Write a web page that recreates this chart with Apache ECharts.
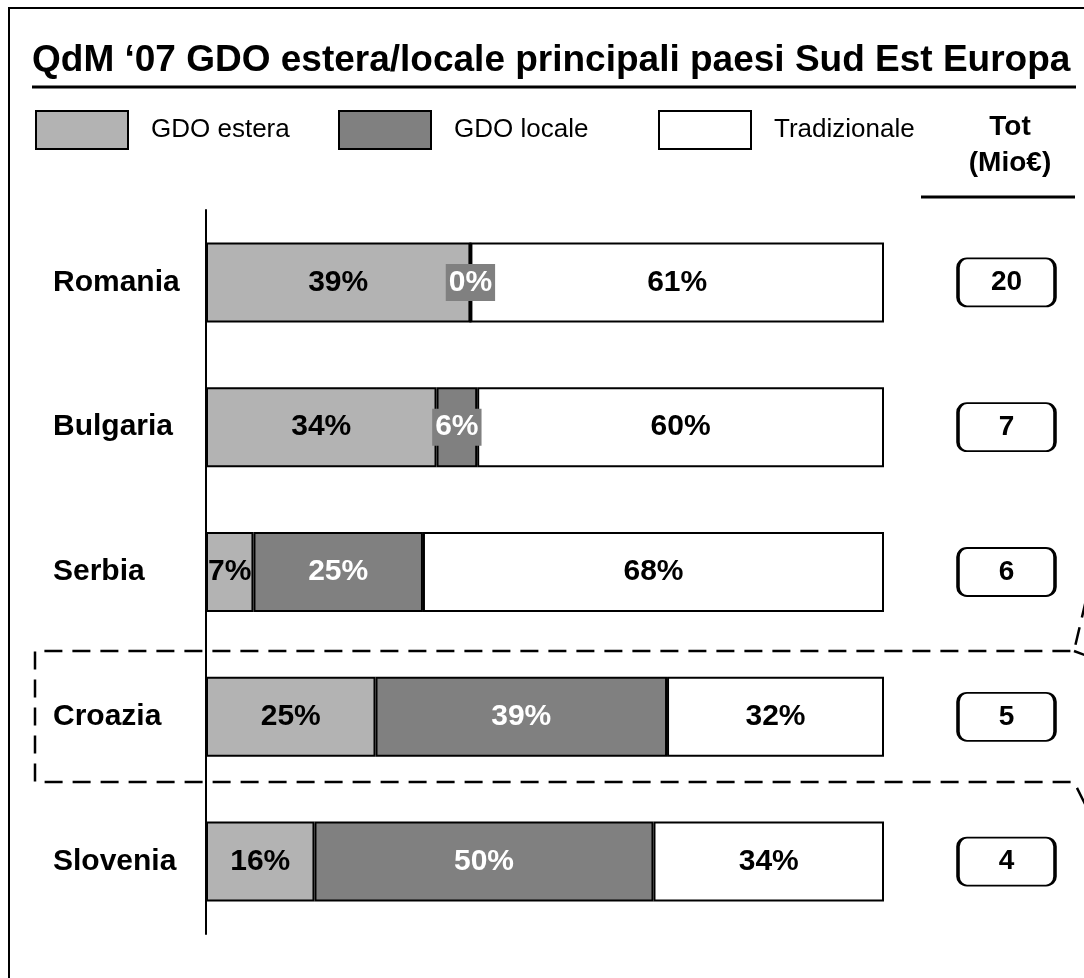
<!DOCTYPE html>
<html>
<head>
<meta charset="utf-8">
<script src="https://cdn.jsdelivr.net/npm/echarts@6/dist/echarts.min.js"></script>
<style>
  html, body { margin: 0; padding: 0; background: #fff; }
  #chart { width: 1084px; height: 978px; }
</style>
</head>
<body>
<div id="chart"></div>
<script>
(function () {
  "use strict";

  // countries, top to bottom
  var countries = ["Romania", "Bulgaria", "Serbia", "Croazia", "Slovenia"];

  // segment widths as drawn (share of 100)
  var esteraShare = [39, 34, 7, 25, 16];
  var localeShare = [0, 6, 25, 43, 50];
  var tradShare = [61, 60, 68, 32, 34];

  // printed labels
  var esteraLabels = ["39%", "34%", "7%", "25%", "16%"];
  var localeLabels = ["0%", "6%", "25%", "39%", "50%"];
  var tradLabels = ["61%", "60%", "68%", "32%", "34%"];

  // market totals, Mio €
  var totals = [20, 7, 6, 5, 4];

  var FONT = "'Liberation Sans', Arial, sans-serif";
  var chart = echarts.init(document.getElementById("chart"));

  function barLabel(texts, color, extra) {
    var l = {
      show: true,
      position: "inside",
      fontFamily: FONT,
      fontSize: 30,
      fontWeight: "bold",
      color: color,
      formatter: function (p) {
        return texts[p.dataIndex];
      },
    };
    return Object.assign(l, extra || {});
  }

  function legendFor(name, left) {
    return {
      data: [name],
      left: left,
      top: 110,
      padding: 0,
      icon: "rect",
      itemWidth: 92,
      itemHeight: 38,
      itemStyle: { borderColor: "#000", borderWidth: 2 },
      textStyle: {
        fontFamily: FONT,
        fontSize: 26,
        color: "#000",
        padding: [0, 0, 0, 18],
      },
      selectedMode: false,
    };
  }

  var dash = { stroke: "#000", lineWidth: 2.5, lineDash: [18, 10], fill: null };
  var boxPath = "path://M9,0H88A9,9 0 0 1 97,9V39A9,9 0 0 1 88,48H9A9,9 0 0 1 0,39V9A9,9 0 0 1 9,0Z";

  chart.setOption({
    animation: false,
    backgroundColor: "#fff",
    title: {
      text: "QdM \u201807 GDO estera/locale principali paesi Sud Est Europa",
      left: 32,
      top: 42,
      padding: 0,
      textStyle: { fontFamily: FONT, fontSize: 37, fontWeight: "bold", color: "#000" },
    },
    legend: [
      legendFor("GDO estera", 35),
      legendFor("GDO locale", 338),
      legendFor("Tradizionale", 658),
    ],
    grid: [
      { left: 206, width: 678, top: 210, height: 724 },
      { left: 958, width: 97, top: 210, height: 724 },
    ],
    xAxis: [
      { gridIndex: 0, type: "value", min: 0, max: 100, show: false },
      { gridIndex: 1, type: "value", min: 0, max: 1, show: false },
    ],
    yAxis: [
      {
        gridIndex: 0,
        type: "category",
        inverse: true,
        data: countries,
        axisLine: { lineStyle: { color: "#000", width: 2 } },
        axisTick: { show: false },
        axisLabel: {
          align: "left",
          margin: 153,
          fontFamily: FONT,
          fontSize: 30,
          fontWeight: "bold",
          color: "#000",
        },
      },
      { gridIndex: 1, type: "category", inverse: true, data: countries, show: false },
    ],
    graphic: [
      // outer frame
      { type: "rect", shape: { x: 9, y: 8, width: 1200, height: 1200 },
        style: { stroke: "#000", lineWidth: 2, fill: null } },
      // title rule
      { type: "line", shape: { x1: 32, y1: 87, x2: 1076, y2: 87 },
        style: { stroke: "#000", lineWidth: 3 } },
      // Tot header
      { type: "text", x: 1010, y: 127,
        style: { text: "Tot", font: "bold 28px " + FONT, fill: "#000",
          align: "center", verticalAlign: "middle" } },
      { type: "text", x: 1010, y: 163,
        style: { text: "(Mio\u20ac)", font: "bold 28px " + FONT, fill: "#000",
          align: "center", verticalAlign: "middle" } },
      { type: "line", shape: { x1: 921, y1: 197, x2: 1075, y2: 197 },
        style: { stroke: "#000", lineWidth: 3 } },
      // dashed highlight round Croazia, with callout
      { type: "polyline",
        shape: { points: [[1086, 600], [1074, 651], [35, 651], [35, 782], [1074, 782], [1090, 814]] },
        style: dash },
      { type: "polyline", shape: { points: [[1074, 651], [1090, 657]] }, style: dash },
    ],
    series: [
      {
        name: "GDO estera",
        type: "bar",
        stack: "tot",
        barWidth: 80,
        data: esteraShare,
        itemStyle: { color: "#b3b3b3", borderColor: "#000", borderWidth: 2 },
        label: barLabel(esteraLabels, "#000"),
      },
      {
        name: "GDO locale",
        type: "bar",
        stack: "tot",
        barWidth: 80,
        data: localeShare,
        itemStyle: { color: "#808080", borderColor: "#000", borderWidth: 2 },
        label: barLabel(localeLabels, "#fff", {
          backgroundColor: "#808080",
          padding: [4, 3, 3, 3],
        }),
      },
      {
        name: "Tradizionale",
        type: "bar",
        stack: "tot",
        barWidth: 80,
        data: tradShare,
        itemStyle: { color: "#fff", borderColor: "#000", borderWidth: 2 },
        label: barLabel(tradLabels, "#000"),
      },
      {
        name: "Tot",
        type: "scatter",
        xAxisIndex: 1,
        yAxisIndex: 1,
        symbol: boxPath,
        symbolKeepAspect: false,
        symbolSize: [97, 48],
        data: totals.map(function (v, i) {
          return [0.5, i, v];
        }),
        itemStyle: { color: "#fff", borderColor: "#000", borderWidth: 2.5, opacity: 1 },
        label: {
          show: true,
          position: "inside",
          fontFamily: FONT,
          fontSize: 28,
          fontWeight: "bold",
          color: "#000",
          formatter: function (p) {
            return String(p.value[2]);
          },
        },
      },
    ],
  });
})();
</script>
</body>
</html>
